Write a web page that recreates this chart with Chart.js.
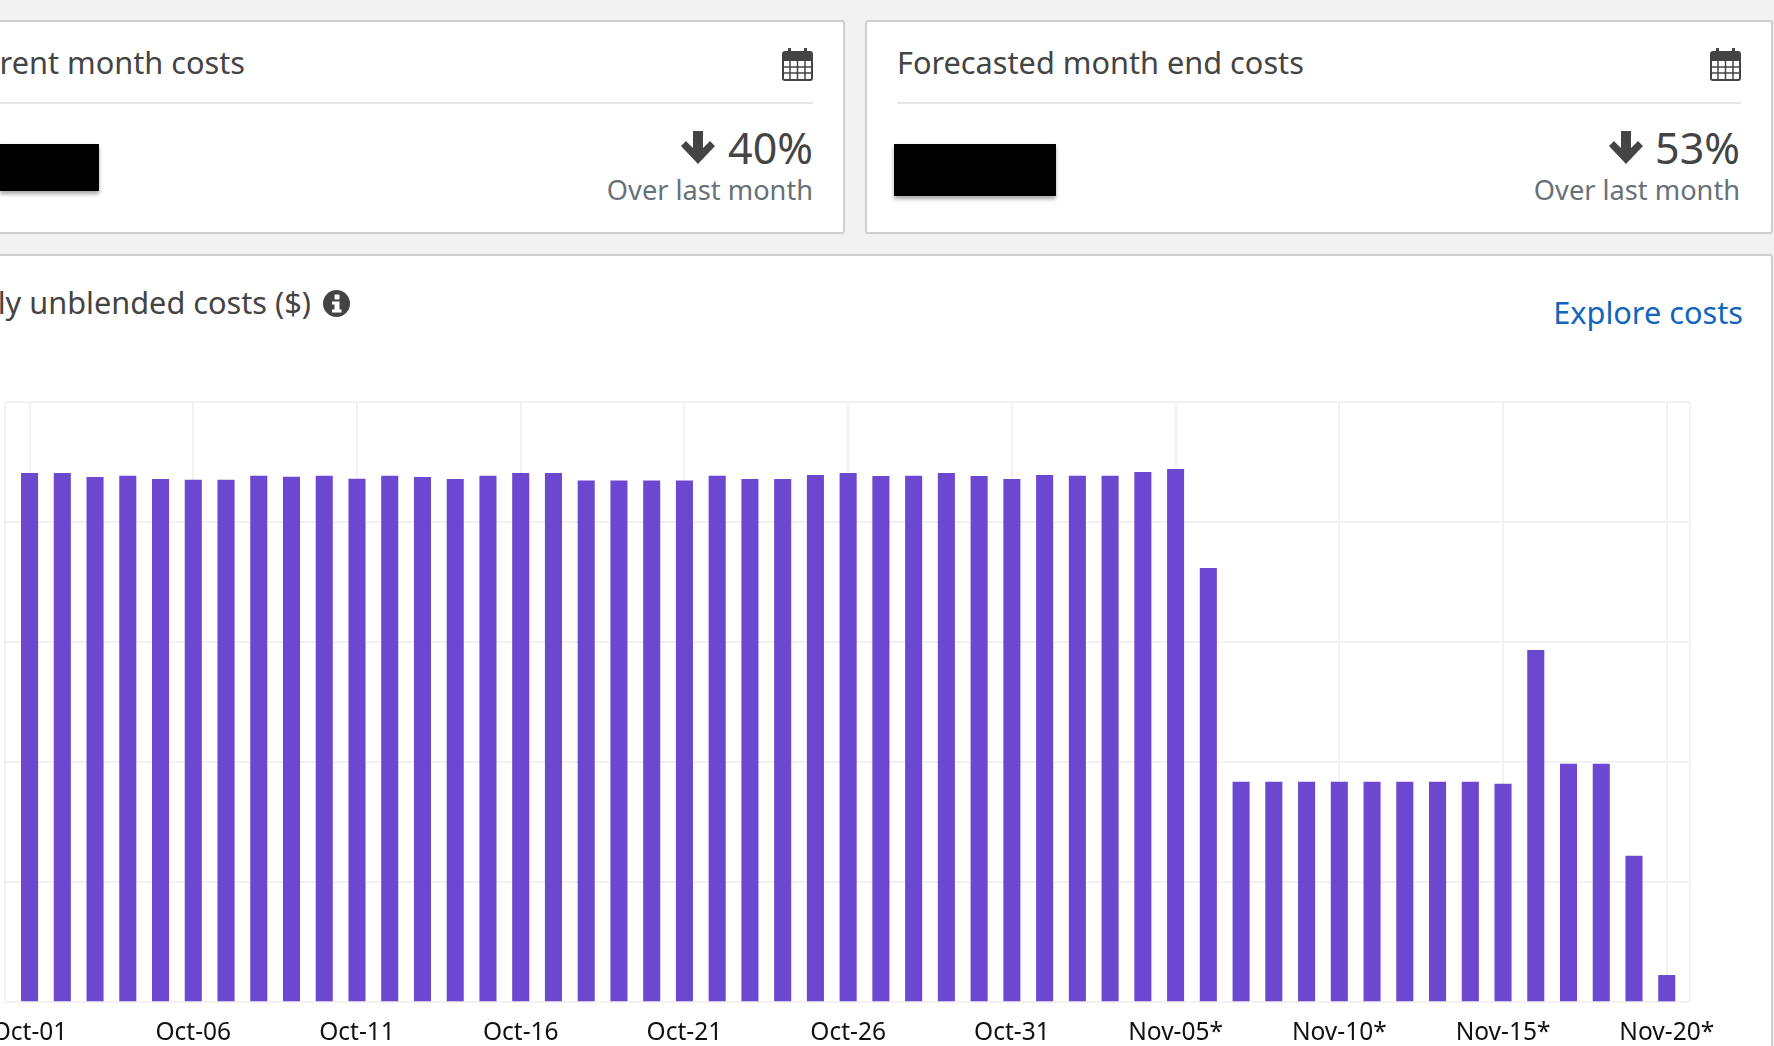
<!DOCTYPE html>
<html>
<head>
<meta charset="utf-8">
<title>Daily unblended costs</title>
<script src="https://cdn.jsdelivr.net/npm/chart.js@4"></script>
<style>
  html, body { margin: 0; padding: 0; }
  body { width: 1774px; height: 1046px; background: #f2f2f2; overflow: hidden; position: relative; font-family: "Noto Sans", sans-serif; color: #444; }
  .card { position: absolute; background: #fff; border: 2px solid #cfcfcf; border-radius: 3px; box-sizing: border-box; }
  .abs { position: absolute; white-space: nowrap; }
  .title { font-size: 30.7px; line-height: 40px; }
  .pct { font-size: 43px; line-height: 46px; }
  .sub { font-size: 27.2px; line-height: 34px; color: #687078; }
  .rule { position: absolute; height: 2px; background: #e6e6e6; }
  .redact { position: absolute; background: #000; box-shadow: 0 3px 4px rgba(0,0,0,0.35); }
  #chart { position: absolute; left: 0; top: 380px; }
</style>
</head>
<body>

<div class="card" style="left:-40px; top:20px; width:885px; height:214px;"></div>
<div class="card" style="left:865px; top:20px; width:908px; height:214px;"></div>
<div class="card" style="left:-40px; top:254px; width:1813px; height:820px;"></div>

<!-- current month card -->
<div class="abs title" style="right:1529px; top:42px;">Current month costs</div>
<svg class="abs" style="left:782px; top:47px;" width="31" height="34" viewBox="0 0 31 34">
  <rect x="1" y="5" width="29" height="28" rx="2" fill="#fff" stroke="#444" stroke-width="2"/>
  <rect x="1" y="5" width="29" height="9" fill="#444"/>
  <rect x="6" y="1" width="3" height="8" fill="#444"/><rect x="22" y="1" width="3" height="8" fill="#444"/>
  <path d="M1 20H30M1 26H30M8 14V33M15.500 14V33M23 14V33" stroke="#444" stroke-width="1.500" fill="none"/>
</svg>
<div class="rule" style="left:0; top:102px; width:813px;"></div>
<div class="redact" style="left:0; top:144px; width:99px; height:47px;"></div>
<svg class="abs" style="left:680px; top:130px;" width="36" height="35" viewBox="0 0 36 35">
  <path d="M13 1H23V18L30 11L35 16L18 34L1 16L6 11L13 18Z" fill="#444"/>
</svg>
<div class="abs pct" style="right:961px; top:125px;">40%</div>
<div class="abs sub" style="right:961px; top:173px;">Over last month</div>

<!-- forecast card -->
<div class="abs title" style="left:897px; top:42px;">Forecasted month end costs</div>
<svg class="abs" style="left:1710px; top:47px;" width="31" height="34" viewBox="0 0 31 34">
  <rect x="1" y="5" width="29" height="28" rx="2" fill="#fff" stroke="#444" stroke-width="2"/>
  <rect x="1" y="5" width="29" height="9" fill="#444"/>
  <rect x="6" y="1" width="3" height="8" fill="#444"/><rect x="22" y="1" width="3" height="8" fill="#444"/>
  <path d="M1 20H30M1 26H30M8 14V33M15.500 14V33M23 14V33" stroke="#444" stroke-width="1.500" fill="none"/>
</svg>
<div class="rule" style="left:897px; top:102px; width:844px;"></div>
<div class="redact" style="left:894px; top:144px; width:162px; height:52px;"></div>
<svg class="abs" style="left:1608px; top:130px;" width="36" height="35" viewBox="0 0 36 35">
  <path d="M13 1H23V18L30 11L35 16L18 34L1 16L6 11L13 18Z" fill="#444"/>
</svg>
<div class="abs pct" style="right:34px; top:125px;">53%</div>
<div class="abs sub" style="right:34px; top:173px;">Over last month</div>

<!-- chart panel header -->
<div class="abs title" style="right:1463px; top:282px;">Daily unblended costs ($)</div>
<svg class="abs" style="left:323px; top:290px;" width="27" height="27" viewBox="0 0 27 27">
  <circle cx="13.500" cy="13.500" r="13.500" fill="#444"/>
  <rect x="11.500" y="4.500" width="5" height="5" rx="1" fill="#fff"/>
  <path d="M9 11.500H16.500V19.500H18.500V22.500H9V19.500H11.500V14.500H9Z" fill="#fff"/>
</svg>
<div class="abs title" style="right:31px; top:292px; color:#1166bb;">Explore costs</div>

<canvas id="chart" width="1774" height="666"></canvas>

<script>
// ========== DATA ========== //
const dates = [
  "Oct-01", "Oct-02", "Oct-03", "Oct-04", "Oct-05", "Oct-06", "Oct-07", "Oct-08", "Oct-09", "Oct-10",
  "Oct-11", "Oct-12", "Oct-13", "Oct-14", "Oct-15", "Oct-16", "Oct-17", "Oct-18", "Oct-19", "Oct-20",
  "Oct-21", "Oct-22", "Oct-23", "Oct-24", "Oct-25", "Oct-26", "Oct-27", "Oct-28", "Oct-29", "Oct-30",
  "Oct-31", "Nov-01", "Nov-02", "Nov-03", "Nov-04", "Nov-05*", "Nov-06*", "Nov-07*", "Nov-08*", "Nov-09*",
  "Nov-10*", "Nov-11*", "Nov-12*", "Nov-13*", "Nov-14*", "Nov-15*", "Nov-16*", "Nov-17*", "Nov-18*", "Nov-19*",
  "Nov-20*"
];

// the axis values are redacted in the picture, one gridline step is taken as 100
const costs = [
  440.6, 440.6, 437.2, 438.3, 435.6, 435.0, 435.0, 438.3, 437.5, 438.3,
  435.8, 438.3, 437.2, 435.6, 438.3, 440.6, 440.6, 434.4, 434.4, 434.4,
  434.4, 438.3, 435.6, 435.6, 438.9, 440.6, 438.1, 438.3, 440.6, 438.1,
  435.6, 438.9, 438.3, 438.3, 441.4, 443.9, 361.4, 183.3, 183.3, 183.3,
  183.3, 183.3, 183.3, 183.3, 183.3, 181.7, 293.0, 198.3, 198.3, 121.7,
  22.2
];

const tickIndexes = [0, 5, 10, 15, 20, 25, 30, 35, 40, 45, 50];

// ========== CHART ========== //
const xMin = -0.75;
const xMax = 50.71;

new Chart(document.getElementById("chart"), {
  type: "bar",
  data: {
    datasets: [{
      data: costs.map((c, i) => ({ x: i, y: c })),
      backgroundColor: "#6b48cf",
      barThickness: 16.4
    }]
  },
  options: {
    responsive: false,
    animation: false,
    layout: { padding: { left: 5, right: 84, top: 22, bottom: 0 } },
    plugins: { legend: { display: false }, tooltip: { enabled: false } },
    scales: {
      x: {
        type: "linear",
        min: xMin,
        max: xMax,
        offset: false,
        // edge ticks have no label, they only close the plot frame
        afterBuildTicks: scale => {
          scale.ticks = [xMin, ...tickIndexes, xMax].map(v => ({ value: v }));
        },
        // the first label is cut by the page edge in the picture, so no room is kept for it
        afterFit: scale => {
          scale.height = 44;
          scale.paddingLeft = 0;
          scale.paddingRight = 0;
        },
        grid: { color: "#f2f2f2", lineWidth: 2, drawTicks: false, offset: false },
        border: { display: false },
        ticks: {
          autoSkip: false,
          maxRotation: 0,
          padding: 16,
          color: "#111",
          font: { family: "Noto Sans", size: 24.5 },
          callback: v => dates[v] || ""
        }
      },
      y: {
        min: 0,
        max: 500,
        grid: { color: "#f2f2f2", lineWidth: 2, drawTicks: false },
        border: { display: false },
        ticks: { display: false, stepSize: 100 }
      }
    }
  }
});
</script>
</body>
</html>
